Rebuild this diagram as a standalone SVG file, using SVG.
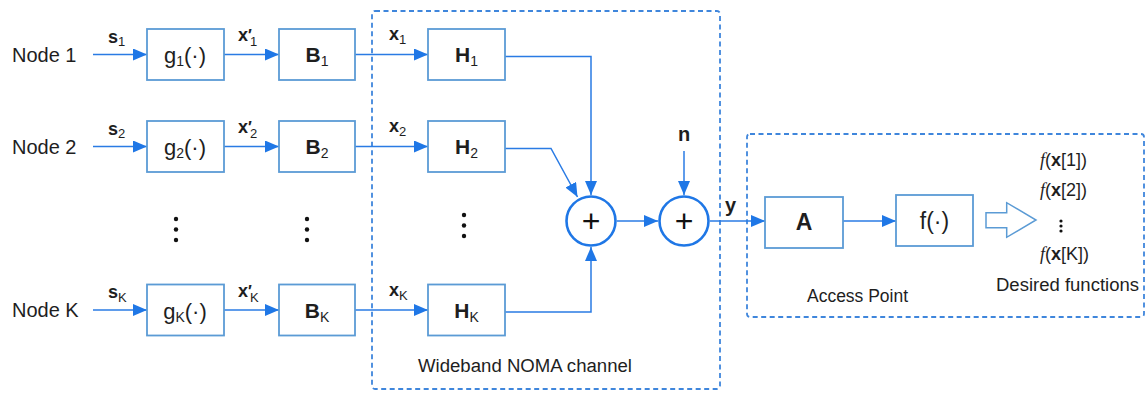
<svg xmlns="http://www.w3.org/2000/svg" width="1146" height="393" viewBox="0 0 1146 393">
<style>
text{font-family:"Liberation Sans",Arial,"DejaVu Sans",sans-serif;fill:#1e1e1e}
.box{fill:#fff;stroke:#5b9bd5;stroke-width:1.8}
.ln{fill:none;stroke:#2a7be4;stroke-width:1.5}
.dash{fill:none;stroke:#3f86dc;stroke-width:1.8;stroke-dasharray:5 3.5}
.sum{fill:#fff;stroke:#1f77e6;stroke-width:2.6}
.node{font-size:20px}
.lbl{font-size:18px;font-weight:bold}
.sub{font-size:13px;font-weight:normal}
.bl{font-size:22px;text-anchor:middle}
.blb{font-size:21px;font-weight:bold;text-anchor:middle}
.bsub{font-size:14px;font-weight:normal}
.cap{font-size:18px}
.plus{font-size:32px;text-anchor:middle;fill:#111}
.dot{fill:#111}
.fn{font-size:18px}
</style>
<defs>
<marker id="ah" markerUnits="userSpaceOnUse" markerWidth="14" markerHeight="12" refX="14" refY="6" orient="auto">
<path d="M0,0 L14,6 L0,12 z" fill="#1f77e6"/>
</marker>
</defs>

<g id="regions">
<rect class="dash" x="372" y="11" width="348" height="378" rx="3"/>
<rect class="dash" x="747" y="134" width="397" height="183" rx="3"/>
<text class="cap" x="418" y="372" textLength="214" lengthAdjust="spacingAndGlyphs">Wideband NOMA channel</text>
<text class="cap" x="807" y="302" textLength="101" lengthAdjust="spacingAndGlyphs">Access Point</text>
<text class="cap" x="996" y="291" textLength="143" lengthAdjust="spacingAndGlyphs">Desired functions</text>
</g>

<g id="connectors">
<path class="ln" marker-end="url(#ah)" d="M93,54.5 H147"/>
<path class="ln" marker-end="url(#ah)" d="M224,54.5 H279"/>
<path class="ln" marker-end="url(#ah)" d="M355,54.5 H428"/>
<path class="ln" marker-end="url(#ah)" d="M505,56.5 H591 V195"/>
<path class="ln" marker-end="url(#ah)" d="M93,146.5 H147"/>
<path class="ln" marker-end="url(#ah)" d="M224,146.5 H279"/>
<path class="ln" marker-end="url(#ah)" d="M355,146.5 H428"/>
<path class="ln" marker-end="url(#ah)" d="M505,148.5 H551 L577.5,197"/>
<path class="ln" marker-end="url(#ah)" d="M93,310 H147"/>
<path class="ln" marker-end="url(#ah)" d="M224,310 H279"/>
<path class="ln" marker-end="url(#ah)" d="M355,310 H428"/>
<path class="ln" marker-end="url(#ah)" d="M505,312 H591 V247"/>
<path class="ln" marker-end="url(#ah)" d="M617,221 H658"/>
<path class="ln" marker-end="url(#ah)" d="M684,151 V195"/>
<path class="ln" marker-end="url(#ah)" d="M710,221 H765"/>
<path class="ln" marker-end="url(#ah)" d="M843,221 H896"/>
<polygon points="986,212.7 1006.7,212.7 1006.7,202.7 1036,220 1006.7,237.3 1006.7,227.7 986,227.7" fill="#fff" stroke="#5b9bd5" stroke-width="1.5"/>
</g>

<g id="edge-labels">
<text class="lbl" x="108" y="42.5">s<tspan class="sub" dy="3.5">1</tspan></text>
<text class="lbl" x="108" y="134.5">s<tspan class="sub" dy="3.5">2</tspan></text>
<text class="lbl" x="108" y="298">s<tspan class="sub" dy="3.5">K</tspan></text>
<text class="lbl" x="238" y="41">x</text><text class="lbl" x="248" y="41" style="font-size:16px">′</text><text class="sub" x="250" y="46">1</text>
<text class="lbl" x="238" y="133">x</text><text class="lbl" x="248" y="133" style="font-size:16px">′</text><text class="sub" x="250" y="138">2</text>
<text class="lbl" x="238" y="296.5">x</text><text class="lbl" x="248" y="296.5" style="font-size:16px">′</text><text class="sub" x="250" y="301.5">K</text>
<text class="lbl" x="389" y="40">x<tspan class="sub" dy="4">1</tspan></text>
<text class="lbl" x="389" y="132">x<tspan class="sub" dy="4">2</tspan></text>
<text class="lbl" x="389" y="296">x<tspan class="sub" dy="4">K</tspan></text>
<text class="lbl" x="678" y="141" style="font-size:20px">n</text>
<text class="lbl" x="725" y="212" style="font-size:20px">y</text>
</g>

<g id="node-1"><text class="node" x="12" y="62">Node 1</text></g>
<g id="node-2"><text class="node" x="12" y="154">Node 2</text></g>
<g id="node-K"><text class="node" x="12" y="317">Node K</text></g>

<g id="g1"><rect class="box" x="147" y="29" width="77" height="51"/><text class="bl" x="185" y="63">g<tspan class="bsub" dy="3">1</tspan><tspan dy="-3">(·)</tspan></text></g>
<g id="g2"><rect class="box" x="147" y="121" width="77" height="51"/><text class="bl" x="185" y="155">g<tspan class="bsub" dy="3">2</tspan><tspan dy="-3">(·)</tspan></text></g>
<g id="gK"><rect class="box" x="147" y="284.5" width="77" height="51"/><text class="bl" x="185" y="318.5">g<tspan class="bsub" dy="3">K</tspan><tspan dy="-3">(·)</tspan></text></g>

<g id="B1"><rect class="box" x="279" y="29" width="76" height="51"/><text class="blb" x="317" y="62">B<tspan class="bsub" dy="4">1</tspan></text></g>
<g id="B2"><rect class="box" x="279" y="121" width="76" height="51"/><text class="blb" x="317" y="154">B<tspan class="bsub" dy="4">2</tspan></text></g>
<g id="BK"><rect class="box" x="279" y="284.5" width="76" height="51"/><text class="blb" x="317" y="317.5">B<tspan class="bsub" dy="4">K</tspan></text></g>

<g id="H1"><rect class="box" x="428" y="29" width="77" height="51"/><text class="blb" x="466.5" y="62">H<tspan class="bsub" dy="4">1</tspan></text></g>
<g id="H2"><rect class="box" x="428" y="121" width="77" height="51"/><text class="blb" x="466.5" y="154">H<tspan class="bsub" dy="4">2</tspan></text></g>
<g id="HK"><rect class="box" x="428" y="284.5" width="77" height="51"/><text class="blb" x="466.5" y="317.5">H<tspan class="bsub" dy="4">K</tspan></text></g>

<g id="ellipses">
<circle class="dot" cx="176" cy="219" r="2.2"/><circle class="dot" cx="176" cy="229.5" r="2.2"/><circle class="dot" cx="176" cy="240" r="2.2"/>
<circle class="dot" cx="307" cy="219" r="2.2"/><circle class="dot" cx="307" cy="229.5" r="2.2"/><circle class="dot" cx="307" cy="240" r="2.2"/>
<circle class="dot" cx="464" cy="215" r="2.2"/><circle class="dot" cx="464" cy="225.5" r="2.2"/><circle class="dot" cx="464" cy="236" r="2.2"/>
<circle class="dot" cx="1061" cy="221" r="1.6"/><circle class="dot" cx="1061" cy="226" r="1.6"/><circle class="dot" cx="1061" cy="231" r="1.6"/>
</g>

<g id="sum1"><circle class="sum" cx="591" cy="221" r="24.5"/><text class="plus" x="591" y="232">+</text></g>
<g id="sum2"><circle class="sum" cx="684" cy="221" r="24.5"/><text class="plus" x="684" y="232">+</text></g>

<g id="A"><rect class="box" x="765" y="197" width="78" height="51"/><text class="blb" x="804" y="230" style="font-size:23px">A</text></g>
<g id="f"><rect class="box" x="896" y="195" width="77" height="51"/><text class="bl" x="934.5" y="229" style="font-size:23px">f(·)</text></g>

<g id="outputs">
<text class="fn" x="1040" y="166"><tspan style="font-family:'Liberation Serif',serif;font-style:italic">f</tspan>(<tspan font-weight="bold">x</tspan>[1])</text>
<text class="fn" x="1040" y="196"><tspan style="font-family:'Liberation Serif',serif;font-style:italic">f</tspan>(<tspan font-weight="bold">x</tspan>[2])</text>
<text class="fn" x="1040" y="260"><tspan style="font-family:'Liberation Serif',serif;font-style:italic">f</tspan>(<tspan font-weight="bold">x</tspan>[K])</text>
</g>
</svg>
